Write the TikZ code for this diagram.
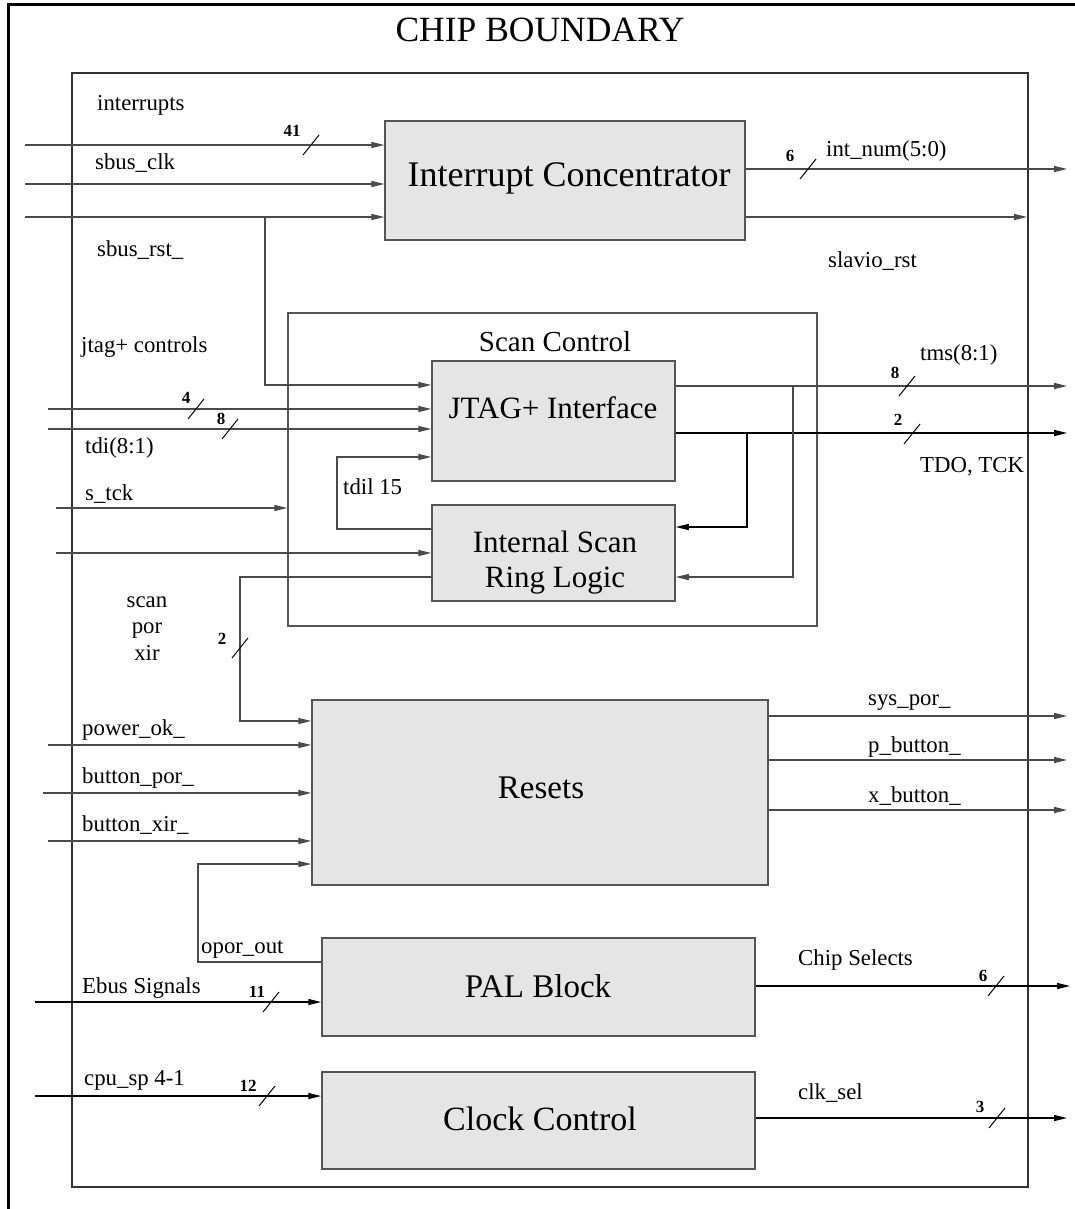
\documentclass[tikz,border=0pt]{standalone}
\usepackage{fontspec}
\setmainfont{Liberation Serif}
\usetikzlibrary{arrows.meta}
\definecolor{fillc}{HTML}{E5E5E5}
\definecolor{bcol}{HTML}{555555}
\definecolor{lcol}{HTML}{4A4A4A}
\newcommand\lblfont{\fontsize{22.8}{26}\selectfont}
\newcommand\numfont{\fontsize{17}{20}\selectfont\bfseries}
\newcommand\bigfont{\fontsize{33}{38}\selectfont}
\newcommand\midfont{\fontsize{29}{34}\selectfont}
\tikzset{
  blk/.style={draw=bcol, fill=fillc, line width=1.5pt, inner sep=0pt},
  frame/.style={draw=bcol, line width=1.4pt},
  sig/.style={draw=lcol, line width=1.3pt},
  arr/.style={sig, -{Triangle[length=13pt,width=6pt]}},
  lbl/.style={font=\lblfont, inner sep=0pt, anchor=base west},
  num/.style={font=\numfont, inner sep=0pt, anchor=base},
  big/.style={font=\bigfont, inner sep=0pt, anchor=base},
  slashline/.style={draw=black, line width=1pt}
}
\newcommand\myslash[1]{\draw[slashline] (#1) ++(-8,10) -- ++(16,-20);}
\begin{document}
\begin{tikzpicture}[x=1pt,y=-1pt]
\useasboundingbox (0,0) rectangle (1075,1209);
% chip boundary
\draw[line width=3pt] (8,1209) -- (8,5) -- (1075,5);
\node[big, font=\fontsize{35.5}{40}\selectfont] (title) at (540,42) {CHIP BOUNDARY};
% inner box
\draw[draw=black!80, line width=1.4pt] (72,73) rectangle (1028,1187);

% blocks
\node[frame, minimum width=529, minimum height=313, inner sep=0pt] (sc) at (552.5,469.5) {};
\node[blk, minimum width=360, minimum height=119] (ic) at (565,180.5) {};
\node[blk, minimum width=243, minimum height=120] (jt) at (553.5,421) {};
\node[blk, minimum width=243, minimum height=96] (isr) at (553.5,553) {};
\node[blk, minimum width=456, minimum height=185] (rs) at (540,792.5) {};
\node[blk, minimum width=433, minimum height=98] (pal) at (538.5,987) {};
\node[blk, minimum width=433, minimum height=97] (clk) at (538.5,1120.5) {};

% block labels
\node[big, font=\fontsize{36}{40}\selectfont] (icl) at (569,186) {Interrupt Concentrator};
\node[font=\midfont, inner sep=0pt, anchor=base] (scl) at (555,351) {Scan Control};
\node[font=\fontsize{31}{36}\selectfont, inner sep=0pt, anchor=base] (jtl) at (553,418) {JTAG+ Interface};
\node[font=\fontsize{31}{36}\selectfont, inner sep=0pt, anchor=base] (isrl1) at (555,552) {Internal Scan};
\node[font=\fontsize{31}{36}\selectfont, inner sep=0pt, anchor=base] (isrl2) at (555,587) {Ring Logic};
\node[big] (rsl) at (541,798) {Resets};
\node[big] (pall) at (538,997) {PAL Block};
\node[big, font=\fontsize{34}{38}\selectfont] (clkl) at (540,1130) {Clock Control};

% interrupt concentrator inputs
\coordinate (i1) at (25,145);
\coordinate (i2) at (25,184);
\coordinate (i3) at (25,217);
\draw[arr] (i1) -- (i1 -| ic.west);
\draw[arr] (i2) -- (i2 -| ic.west);
\draw[arr] (i3) -- (i3 -| ic.west);
\myslash{311,145}
\node[num] (n41) at (292,137) {41};
\node[lbl] (l_int) at (97,111) {interrupts};
\node[lbl] (l_sclk) at (95,170) {sbus\_clk};
\node[lbl] (l_srst) at (97,256) {sbus\_rst\_};

% interrupt concentrator outputs
\coordinate (n1) at (1067,169);
\coordinate (n2) at (1027,217);
\draw[arr] (n1 -| ic.east) -- (n1);
\draw[arr] (n2 -| ic.east) -- (n2);
\myslash{808,169}
\node[num] (n6a) at (790,162) {6};
\node[lbl] (l_inum) at (826,157) {int\_num(5:0)};
\node[lbl] (l_slav) at (828,267) {slavio\_rst};

% sbus_rst branch to JTAG
\coordinate (b1) at (265,217);
\coordinate (j0) at (265,385);
\draw[arr] (b1) -- (j0) -- (j0 -| jt.west);

% JTAG inputs
\coordinate (j1) at (48,409);
\coordinate (j2) at (48,429);
\draw[arr] (j1) -- (j1 -| jt.west);
\draw[arr] (j2) -- (j2 -| jt.west);
\myslash{196,409}
\node[num] (n4) at (186,403) {4};
\myslash{230,429}
\node[num] (n8a) at (221,424) {8};
\node[lbl] (l_jtag) at (81,352) {jtag+ controls};
\node[lbl] (l_tdi) at (85,453) {tdi(8:1)};

% tdil loop
\coordinate (t1) at (337,529);
\coordinate (t2) at (337,457);
\draw[arr] (t1 -| isr.west) -- (t1) -- (t2) -- (t2 -| jt.west);
\node[lbl] (l_tdil) at (343,494) {tdil 15};

% s_tck and ISR input
\coordinate (s1) at (56,508);
\coordinate (s2) at (56,553);
\draw[arr] (s1) -- (s1 -| sc.west);
\draw[arr] (s2) -- (s2 -| isr.west);
\node[lbl] (l_stck) at (85,500) {s\_tck};

% JTAG outputs
\coordinate (o1) at (1067,386);
\coordinate (o2) at (1067,433);
\draw[arr] (o1 -| jt.east) -- (o1);
\draw[arr, draw=black] (o2 -| jt.east) -- (o2);
\myslash{907,386}
\node[num] (n8b) at (895,378) {8};
\myslash{912,434}
\node[num] (n2a) at (898,425) {2};
\node[lbl] (l_tms) at (920,360) {tms(8:1)};
\node[lbl] (l_tdo) at (920,472) {TDO, TCK};

% feedback to ISR
\coordinate (f1) at (747,433);
\coordinate (f1b) at (747,527);
\draw[arr, draw=black] (f1) -- (f1b) -- (f1b -| isr.east);
\coordinate (f2) at (793,386);
\coordinate (f2b) at (793,577);
\draw[arr] (f2) -- (f2b) -- (f2b -| isr.east);

% ISR to Resets
\coordinate (r0a) at (240,577);
\coordinate (r0b) at (240,721);
\draw[arr] (r0a -| isr.west) -- (r0a) -- (r0b) -- (r0b -| rs.west);
\myslash{240,648}
\node[num] (n2b) at (222,644) {2};
\node[lbl, anchor=base] (l_scan) at (147,607) {scan};
\node[lbl, anchor=base] (l_por) at (147,633) {por};
\node[lbl, anchor=base] (l_xir) at (147,660) {xir};

% Resets inputs
\coordinate (p1) at (48,745);
\coordinate (p2) at (43,793);
\coordinate (p3) at (48,841);
\draw[arr] (p1) -- (p1 -| rs.west);
\draw[arr] (p2) -- (p2 -| rs.west);
\draw[arr] (p3) -- (p3 -| rs.west);
\node[lbl] (l_pok) at (82,735) {power\_ok\_};
\node[lbl] (l_bpor) at (82,783) {button\_por\_};
\node[lbl] (l_bxir) at (82,831) {button\_xir\_};

% Resets outputs
\coordinate (x1) at (1067,716);
\coordinate (x2) at (1067,760);
\coordinate (x3) at (1067,810);
\draw[arr] (x1 -| rs.east) -- (x1);
\draw[arr] (x2 -| rs.east) -- (x2);
\draw[arr] (x3 -| rs.east) -- (x3);
\node[lbl] (l_sys) at (868,705) {sys\_por\_};
\node[lbl] (l_pb) at (868,752) {p\_button\_};
\node[lbl] (l_xb) at (868,802) {x\_button\_};

% opor_out loop
\coordinate (q1) at (198,962);
\coordinate (q2) at (198,864);
\draw[arr] (q1 -| pal.west) -- (q1) -- (q2) -- (q2 -| rs.west);
\node[lbl] (l_opor) at (201,953) {opor\_out};

% PAL
\coordinate (e1) at (35,1002);
\coordinate (e2) at (1070,986);
\draw[arr, draw=black] (e1) -- (e1 -| pal.west);
\draw[arr, draw=black] (e2 -| pal.east) -- (e2);
\myslash{271,1002}
\node[num] (n11) at (257,997) {11};
\myslash{996,986}
\node[num] (n6b) at (983,981) {6};
\node[lbl] (l_ebus) at (82,993) {Ebus Signals};
\node[lbl] (l_cs) at (798,965) {Chip Selects};

% Clock control
\coordinate (c1) at (35,1096);
\coordinate (c2) at (1067,1118);
\draw[arr, draw=black] (c1) -- (c1 -| clk.west);
\draw[arr, draw=black] (c2 -| clk.east) -- (c2);
\myslash{267,1096}
\node[num] (n12) at (248,1091) {12};
\myslash{997,1118}
\node[num] (n3) at (980,1112) {3};
\node[lbl] (l_cpu) at (84,1085) {cpu\_sp 4-1};
\node[lbl] (l_clks) at (798,1099) {clk\_sel};
\end{tikzpicture}
\end{document}
